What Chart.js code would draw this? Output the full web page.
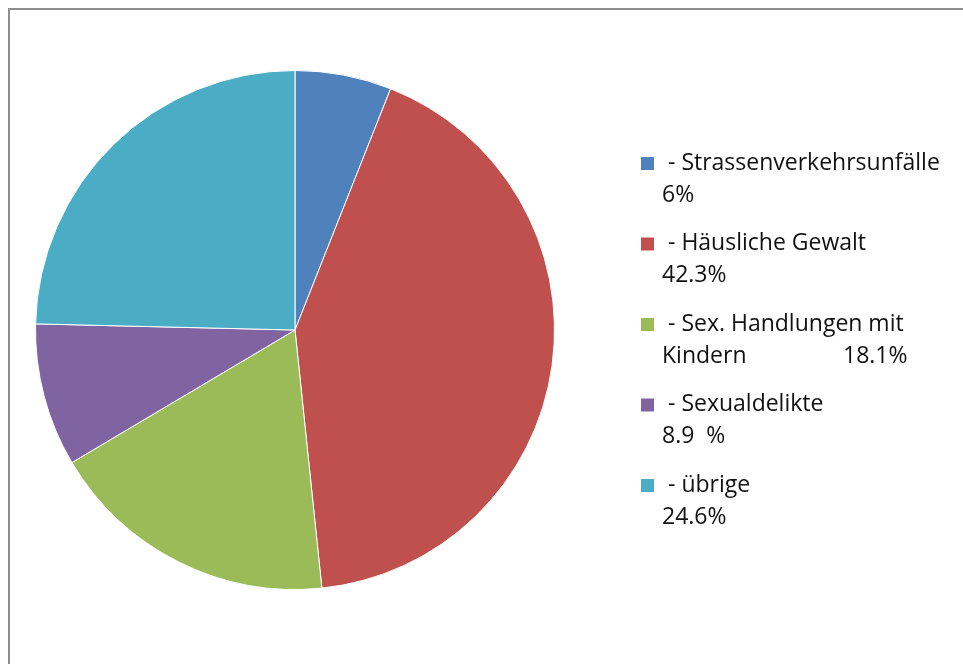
<!DOCTYPE html>
<html>
<head>
<meta charset="utf-8">
<script src="https://cdn.jsdelivr.net/npm/chart.js@4"></script>
<style>
  html, body { margin: 0; padding: 0; background: #fff; }
  #wrap { width: 963px; height: 664px; position: relative; }
</style>
</head>
<body>
<div id="wrap"><canvas id="myChart"></canvas></div>
<script>
// slices, clockwise from 12 o'clock
const categories = ['Strassenverkehrsunfälle', 'Häusliche Gewalt', 'Sex. Handlungen mit Kindern', 'Sexualdelikte', 'übrige'];
const values = [6, 42.3, 18.1, 8.9, 24.6];
const colors = ['#4F81BD', '#C0504D', '#9BBB59', '#8064A2', '#4BACC6'];
// legend text as it stands in the picture (tab = pushed to the right)
const legendLines = [
  ['- Strassenverkehrsunfälle', '6%'],
  ['- Häusliche Gewalt', '42.3%'],
  ['- Sex. Handlungen mit', 'Kindern\t18.1%'],
  ['- Sexualdelikte', '8.9  %'],
  ['- übrige', '24.6%']
];

// frame + legend drawn by hand, the built-in legend can't do the two-line layout
const boxLegend = {
  id: 'boxLegend',
  beforeDraw(chart) {
    const ctx = chart.ctx;
    ctx.save();
    ctx.strokeStyle = '#8e8e8e';
    ctx.lineWidth = 2;
    ctx.beginPath();
    ctx.moveTo(9, 700);
    ctx.lineTo(9, 9);
    ctx.lineTo(1000, 9);
    ctx.stroke();
    ctx.restore();
  },
  afterDraw(chart) {
    const ctx = chart.ctx;
    ctx.save();
    ctx.font = '23px "Open Sans"';
    ctx.fillStyle = '#000';
    ctx.textBaseline = 'middle';
    legendLines.forEach((lines, i) => {
      const y = 163 + i * 80.5;
      ctx.fillStyle = colors[i];
      ctx.fillRect(641, y - 6, 13, 13);
      ctx.fillStyle = '#111';
      ctx.fillText(lines[0], 668, y);
      const parts = lines[1].split('\t');
      ctx.fillText(parts[0], 662, y + 32);
      if (parts[1]) ctx.fillText(parts[1], 843, y + 32);
    });
    ctx.restore();
  }
};

const data = {
  labels: categories,
  datasets: [{
    data: values,
    backgroundColor: colors,
    borderColor: '#ffffff',
    borderWidth: 1
  }]
};

const config = {
  type: 'pie',
  data,
  options: {
    responsive: false,
    animation: false,
    layout: { padding: { left: 35, right: 408, top: 70, bottom: 74 } },
    plugins: {
      legend: { display: false },
      tooltip: { enabled: false }
    }
  },
  plugins: [boxLegend]
};

const cv = document.getElementById('myChart');
cv.width = 963;
cv.height = 664;
var myChart = new Chart(cv, config);
</script>
</body>
</html>
